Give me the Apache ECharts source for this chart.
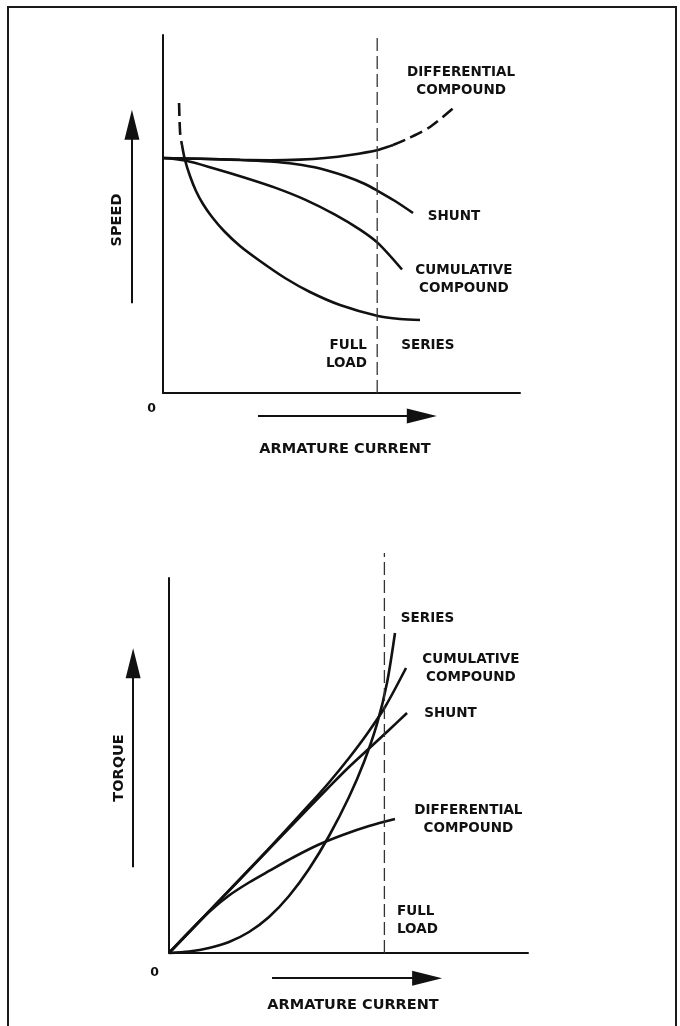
<!DOCTYPE html>
<html>
<head>
<meta charset="utf-8">
<title>DC motor characteristics</title>
<script src="https://cdn.jsdelivr.net/npm/echarts@6/dist/echarts.min.js"></script>
<style>
  html, body { margin: 0; padding: 0; background: #fff; overflow: hidden; }
  #frame { position: absolute; left: 7px; top: 6px; width: 670px; height: 1040px;
           border: 2px solid #1a1a1a; box-sizing: border-box; }
  #chart { position: absolute; left: 0; top: 0; width: 680px; height: 1026px; }
</style>
</head>
<body>
<div id="frame"></div>
<div id="chart"></div>
<script>
// Armature current in relative units (full load = 60), speed / torque in relative units.
const fullLoad = 60;
const originLabel = '0';
const xName = 'ARMATURE CURRENT';
const speedName = 'SPEED';
const torqueName = 'TORQUE';
const curveNames = ['SERIES', 'CUMULATIVE\nCOMPOUND', 'SHUNT', 'DIFFERENTIAL\nCOMPOUND'];
const fullLoadName = 'FULL\nLOAD';

// Speed vs armature current
const speedShunt = [[0,65.64],[10.36,65.42],[21.57,65.08],[29.97,64.66],[36.97,63.97],[43.98,62.71],[50.98,60.61],[56.58,58.38],[60.22,56.42],[64.99,53.63],[70.03,50.28]];
const speedCumulative = [[0,65.64],[6.16,64.92],[14.57,62.65],[22.97,60.14],[31.37,57.37],[39.78,54.02],[48.18,49.83],[55.18,45.64],[60.22,41.87],[66.95,34.50]];
const speedSeries = [[5.32,69.27],[6.16,65.08],[7.56,60.61],[9.24,56.42],[11.20,52.79],[13.73,49.16],[17.09,45.25],[21.57,41.06],[27.17,36.87],[34.17,32.12],[41.18,28.21],[49.58,24.58],[60.22,21.51],[66.39,20.67],[71.99,20.39]];
const speedSeriesNoLoad = [[4.5,81.0],[4.8,72.6],[5.32,69.27]];
const speedDifferential = [[0,65.64],[10.36,65.42],[21.57,65.14],[29.97,65.03],[38.38,65.20],[45.38,65.64],[52.38,66.48],[60.22,67.88],[64.43,69.27]];
const speedDifferentialRunaway = [[64.43,69.27],[68.35,70.95],[74.79,74.30],[82.35,80.45]];

// Torque vs armature current
const torqueSeries = [[0,0],[5.57,0.4],[11.14,1.33],[16.71,2.93],[22.28,5.6],[27.86,9.6],[33.43,15.2],[39.0,22.4],[44.57,31.2],[50.14,41.6],[54.32,50.93],[57.94,61.07],[60.72,72.0],[62.95,85.33]];
const torqueCumulative = [[0,0],[13.93,13.87],[27.86,27.87],[39.0,39.47],[44.57,45.47],[50.14,52.0],[55.15,58.4],[60.17,65.6],[66.02,76.0]];
const torqueShunt = [[0,0],[13.93,13.87],[27.86,27.73],[39.0,38.8],[44.57,44.27],[50.14,49.6],[55.71,54.53],[61.28,59.47],[66.30,64.0]];
const torqueDifferential = [[0,0],[5.57,5.6],[11.14,10.93],[16.71,15.33],[22.28,18.8],[27.86,21.87],[34.82,25.6],[41.78,28.93],[48.75,31.6],[55.71,33.87],[62.95,35.73]];

const INK = '#111';
const FONT = 'DejaVu Sans';

function curve(grid, data, dashed) {
  return {
    type: 'line', xAxisIndex: grid, yAxisIndex: grid, data: data,
    smooth: 0.3, symbol: 'none', silent: true, clip: false,
    lineStyle: { color: INK, width: 2.6, type: dashed ? [13, 6] : 'solid' }
  };
}

function label(name, coord, align) {
  return {
    name: name, coord: coord, symbol: 'circle', symbolSize: 1,
    itemStyle: { color: 'transparent' },
    label: { show: true, position: 'inside', formatter: '{b}', align: align || 'center',
             verticalAlign: 'middle', color: INK, fontFamily: FONT, fontWeight: 'bold',
             fontSize: 13.5, lineHeight: 18 }
  };
}

// Full-load marker and curve labels for one panel
function fullLoadMarker(grid, lineTop, labels) {
  return {
    type: 'line', xAxisIndex: grid, yAxisIndex: grid, silent: true, clip: false,
    data: [[fullLoad, 0], [fullLoad, lineTop]], symbol: 'none',
    lineStyle: { color: '#333', width: 1.3, type: [13, 5] },
    markPoint: { silent: true, animation: false, data: labels }
  };
}

// Direction arrows beside the axes (drawn in the panel's data space, outside the plot area)
function arrows(grid, segments) {
  return {
    type: 'lines', coordinateSystem: 'cartesian2d', xAxisIndex: grid, yAxisIndex: grid,
    silent: true, clip: false, animation: false,
    symbol: ['none', 'triangle'], symbolSize: [0, [15, 30]],
    lineStyle: { color: INK, width: 2, opacity: 1, curveness: 0 },
    data: segments.map(s => ({ coords: s }))
  };
}

function xAxis(grid, gap, namePad, labelMargin, labelPad) {
  return {
    gridIndex: grid, type: 'value', min: 0, max: 100, interval: 100,
    name: xName, nameLocation: 'middle', nameGap: gap,
    nameTextStyle: { color: INK, fontFamily: FONT, fontWeight: 'bold', fontSize: 14.5, padding: namePad },
    axisLine: { show: true, onZero: false, lineStyle: { color: INK, width: 2 } },
    axisTick: { show: false }, splitLine: { show: false },
    axisLabel: { show: true, margin: labelMargin, align: 'right', padding: labelPad,
                 color: INK, fontFamily: FONT, fontWeight: 'bold', fontSize: 12.5,
                 formatter: v => (v === 0 ? originLabel : '') }
  };
}

function yAxis(grid, name, gap, namePad) {
  return {
    gridIndex: grid, type: 'value', min: 0, max: 100,
    name: name, nameLocation: 'middle', nameGap: gap,
    nameTextStyle: { color: INK, fontFamily: FONT, fontWeight: 'bold', fontSize: 14.5, padding: namePad },
    axisLine: { show: true, onZero: false, lineStyle: { color: INK, width: 2 } },
    axisTick: { show: false }, splitLine: { show: false }, axisLabel: { show: false }
  };
}

const chart = echarts.init(document.getElementById('chart'), null, { renderer: 'canvas' });
chart.setOption({
  animation: false,
  backgroundColor: 'transparent',
  textStyle: { fontFamily: FONT },
  grid: [
    { left: 163, top: 35, width: 357, height: 358 },
    { left: 169, top: 578, width: 359, height: 375 }
  ],
  xAxis: [
    xAxis(0, 49, [0, 0, 0, 7], 9, [0, 7, 0, 0]),
    xAxis(1, 45, [0, 0, 0, 9], 13, [0, 10, 0, 0])
  ],
  yAxis: [
    yAxis(0, speedName, 38, [0, 12, 0, 0]),
    yAxis(1, torqueName, 42, [0, 5, 0, 0])
  ],
  series: [
    curve(0, speedDifferential),
    curve(0, speedDifferentialRunaway, true),
    curve(0, speedShunt),
    curve(0, speedCumulative),
    curve(0, speedSeries),
    curve(0, speedSeriesNoLoad, true),
    fullLoadMarker(0, 99.4,
      [label(curveNames[3], [83.5, 87.0]),
       label(curveNames[2], [81.5, 49.4]),
       label(curveNames[1], [84.3, 31.6]),
       label(curveNames[0], [74.2, 13.4]),
       label(fullLoadName, [57.1, 10.8], 'right')]),
    arrows(0, [[[26.6, -6.4], [72.5, -6.4]], [[-8.7, 25.1], [-8.7, 74.9]]]),

    curve(1, torqueDifferential),
    curve(1, torqueShunt),
    curve(1, torqueCumulative),
    curve(1, torqueSeries),
    fullLoadMarker(1, 106.7,
      [label(curveNames[0], [72.0, 89.3]),
       label(curveNames[1], [84.1, 76.0]),
       label(curveNames[2], [78.4, 64.0]),
       label(curveNames[3], [83.4, 35.7]),
       label(fullLoadName, [63.5, 8.7], 'left')]),
    arrows(1, [[[28.7, -6.7], [71.9, -6.7]], [[-10.0, 22.9], [-10.0, 77.3]]])
  ]
});
</script>
</body>
</html>
